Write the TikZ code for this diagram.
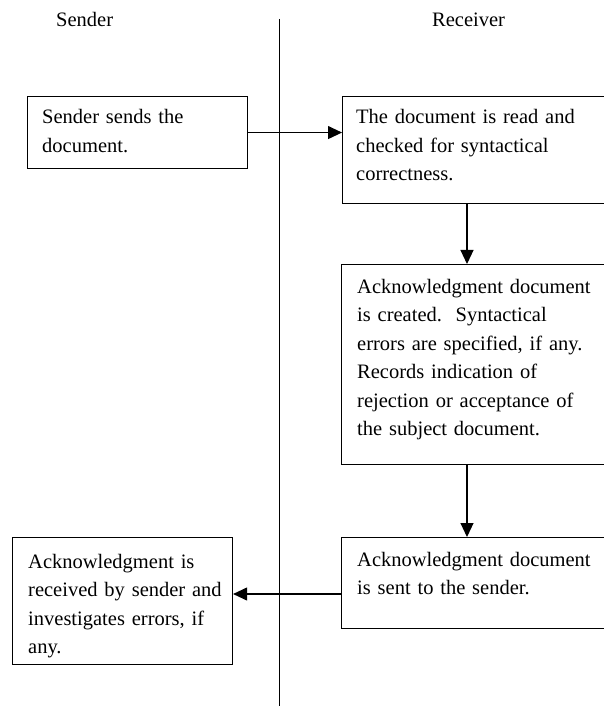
\documentclass[tikz,border=0pt]{standalone}
\usepackage{fontspec}
\setmainfont{Liberation Serif}
\usetikzlibrary{arrows.meta}
\tikzset{
  boxshape/.style={draw, line width=1.1pt, rectangle, inner sep=0pt, anchor=north west},
  boxtext/.style={anchor=base west, inner sep=0pt, text width=260pt, align=left,
    font=\fontsize{20.5}{28.5}\selectfont},
  headtext/.style={anchor=base west, inner sep=0pt, font=\fontsize{20.5}{24}\selectfont},
  flow/.style={line width=1.1pt, -{Triangle[length=14pt,width=13pt]}},
  lane/.style={line width=0.9pt}
}
\begin{document}
\begin{tikzpicture}[x=1pt,y=-1pt]
\useasboundingbox (0,0) rectangle (603,708);
% lane divider
\coordinate (ltop) at (279.5,19);
\coordinate (lbot) at (279.5,706);
\draw[lane] (ltop) -- (lbot);
% headers
\node[headtext] (hs) at (56,27) {Sender};
\node[headtext] (hr) at (432,27) {Receiver};
% boxes
\node[boxshape, minimum width=220pt, minimum height=72pt] (b1) at (27,96) {};
\node[boxshape, minimum width=290pt, minimum height=107pt] (b2) at (342,96) {};
\node[boxshape, minimum width=290pt, minimum height=200pt] (b3) at (341,264) {};
\node[boxshape, minimum width=290pt, minimum height=91pt] (b4) at (341,537) {};
\node[boxshape, minimum width=220pt, minimum height=127pt] (b5) at (12,537) {};
% texts
\node[boxtext] (t1) at (42,124) {Sender sends the\\document.};
\node[boxtext] (t2) at (356,124) {The document is read and\\checked for syntactical\\correctness.};
\node[boxtext] (t3) at (357,293) {Acknowledgment document\\is created.\ \ Syntactical\\errors are specified, if any.\\Records indication of\\rejection or acceptance of\\the subject document.};
\node[boxtext] (t4) at (357,566) {Acknowledgment document\\is sent to the sender.};
\node[boxtext] (t5) at (28,568) {Acknowledgment is\\received by sender and\\investigates errors, if\\any.};
% connectors
\coordinate (colx) at (467,0);
\coordinate (ay) at (0,594);
\draw[flow] (b1.east) -- (b1.east -| b2.west);
\draw[flow] (b2.south -| colx) -- (b3.north -| colx);
\draw[flow] (b3.south -| colx) -- (b4.north -| colx);
\draw[flow] (b4.west |- ay) -- (b5.east |- ay);
\end{tikzpicture}
\end{document}
